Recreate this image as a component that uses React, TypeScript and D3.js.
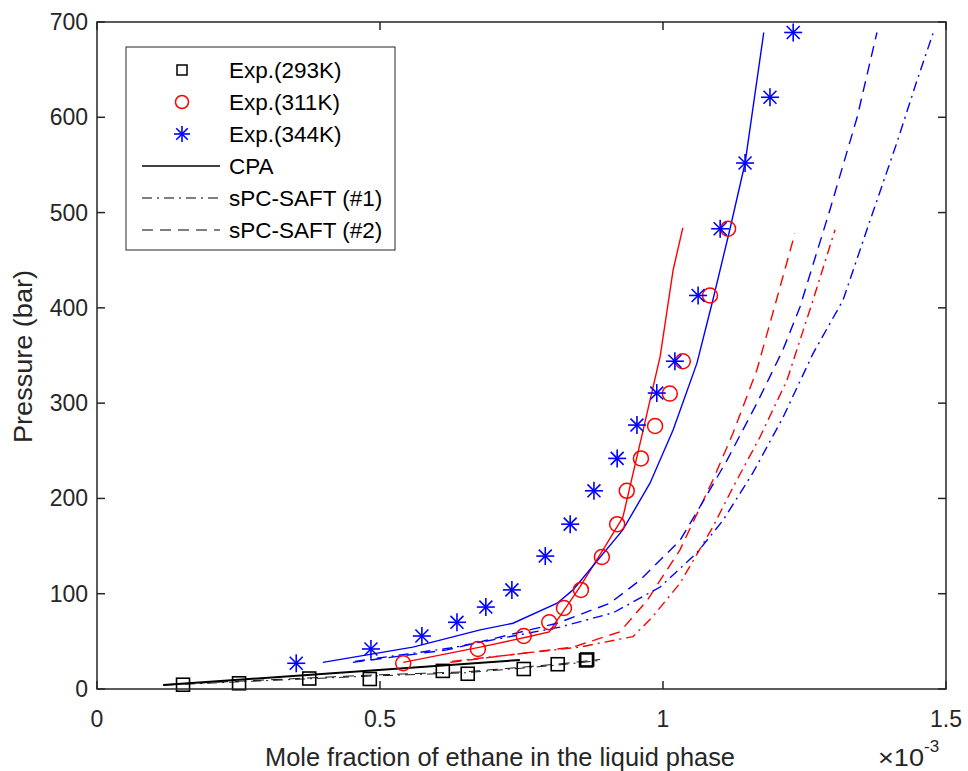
import React from "react";
import * as d3 from "d3";

type Pt = [number, number];

// Experimental data (x in 1e-3 mole fraction, pressure in bar)
const exp293: Pt[] = [
  [0.152, 4.5], [0.251, 6], [0.375, 11], [0.482, 10.5], [0.611, 19], [0.655, 16],
  [0.754, 21], [0.814, 26], [0.864, 30], [0.866, 31],
];
const exp311: Pt[] = [
  [0.541, 27], [0.673, 42], [0.754, 55.6], [0.799, 70], [0.825, 85], [0.855, 104],
  [0.892, 138.5], [0.919, 173], [0.936, 208], [0.961, 242], [0.986, 276],
  [1.012, 310], [1.035, 344], [1.083, 413], [1.115, 483],
];
const exp344: Pt[] = [
  [0.352, 27], [0.484, 42], [0.574, 55.6], [0.636, 70], [0.687, 86], [0.733, 104],
  [0.792, 139.5], [0.836, 173], [0.878, 208], [0.919, 242], [0.954, 277],
  [0.989, 310.6], [1.021, 344], [1.062, 413], [1.101, 483], [1.145, 552],
  [1.189, 621], [1.230, 689],
];

// Model curves
const cpa293: Pt[] = [[0.117, 4.2], [0.747, 30.4]];
const saft1_293: Pt[] = [[0.117, 4], [0.48, 13.5], [0.65, 17], [0.754, 22], [0.82, 25.5], [0.889, 30]];
const saft2_293: Pt[] = [[0.117, 4.5], [0.48, 14.5], [0.65, 18], [0.754, 23], [0.82, 26.5], [0.889, 31]];

const cpa311: Pt[] = [
  [0.541, 28], [0.677, 44], [0.760, 54.6], [0.799, 60], [0.853, 107], [0.894, 146],
  [0.929, 180], [0.965, 272], [0.995, 349], [1.018, 440], [1.035, 484],
];
const saft1_311: Pt[] = [
  [0.627, 29], [0.853, 44], [0.947, 55], [0.982, 76], [1.030, 111], [1.088, 170],
  [1.124, 212], [1.171, 264], [1.219, 324], [1.265, 408], [1.304, 482],
];
const saft2_311: Pt[] = [
  [0.624, 28], [0.841, 44], [0.924, 60], [0.972, 93], [1.030, 146], [1.088, 219],
  [1.124, 269], [1.166, 335], [1.198, 403], [1.233, 478],
];

const cpa344: Pt[] = [
  [0.399, 28], [0.558, 44], [0.677, 62], [0.735, 69], [0.813, 90], [0.841, 104],
  [0.929, 167], [0.977, 216], [1.018, 272], [1.060, 342], [1.088, 408],
  [1.118, 482], [1.145, 552], [1.178, 689],
];
const saft1_344: Pt[] = [
  [0.456, 29], [0.624, 43], [0.818, 65], [0.912, 80], [0.995, 107], [1.060, 143],
  [1.106, 177], [1.159, 227], [1.212, 285], [1.265, 352], [1.318, 408],
  [1.366, 492], [1.413, 573], [1.449, 639], [1.477, 688],
];
const saft2_344: Pt[] = [
  [0.452, 28], [0.618, 41], [0.813, 69], [0.906, 90], [0.959, 114], [1.030, 156],
  [1.065, 191], [1.113, 240], [1.166, 300], [1.212, 356], [1.242, 401],
  [1.295, 503], [1.343, 600], [1.378, 689],
];

const xTicks = [0, 0.5, 1, 1.5];
const yTicks = [0, 100, 200, 300, 400, 500, 600, 700];
const legendLabels = ["Exp.(293K)", "Exp.(311K)", "Exp.(344K)", "CPA", "sPC-SAFT (#1)", "sPC-SAFT (#2)"];

const W = 968, H = 771;
const M = { left: 97, right: 946, top: 22, bottom: 689 };
const FONT = "'Liberation Sans', Arial, Helvetica, sans-serif";
const AX = "#262626";
const RED = "#ff0000";
const BLUE = "#0000ff";
const DASH = "11,7";
const DASHDOT = "10,5,2,5";

function Star({ x, y, r, color }: { x: number; y: number; r: number; color: string }) {
  const d = r * 0.72;
  return (
    <g stroke={color} strokeWidth={1.6}>
      <line x1={x - r} y1={y} x2={x + r} y2={y} />
      <line x1={x} y1={y - r} x2={x} y2={y + r} />
      <line x1={x - d} y1={y - d} x2={x + d} y2={y + d} />
      <line x1={x - d} y1={y + d} x2={x + d} y2={y - d} />
    </g>
  );
}

export default function App() {
  const x = d3.scaleLinear().domain([0, 1.5]).range([M.left, M.right]);
  const y = d3.scaleLinear().domain([0, 700]).range([M.bottom, M.top]);
  const line = d3.line<Pt>().x((d) => x(d[0])).y((d) => y(d[1]));

  const curves: { data: Pt[]; color: string; dash?: string; w: number }[] = [
    { data: saft1_293, color: "#000", dash: DASHDOT, w: 0.9 },
    { data: saft2_293, color: "#000", dash: DASH, w: 0.9 },
    { data: cpa293, color: "#000", w: 2 },
    { data: saft1_311, color: RED, dash: DASHDOT, w: 1.4 },
    { data: saft2_311, color: RED, dash: DASH, w: 1.4 },
    { data: cpa311, color: RED, w: 1.4 },
    { data: saft1_344, color: BLUE, dash: DASHDOT, w: 1.4 },
    { data: saft2_344, color: BLUE, dash: DASH, w: 1.4 },
    { data: cpa344, color: BLUE, w: 1.4 },
  ];

  const lg = { x: 126, y: 47, w: 269, h: 203 };
  const rowY = [70, 102, 134, 166, 198, 230];
  const mx = 182;
  const tx = 229;

  return (
    <svg width={W} height={H} style={{ position: "absolute", left: 0, top: 0, background: "#fff" }} fontFamily={FONT}>
      <rect x={0} y={0} width={W} height={H} fill="#fff" />
      {/* curves */}
      <g fill="none">
        {curves.map((c, i) => (
          <path key={i} d={line(c.data) || ""} stroke={c.color} strokeWidth={c.w} strokeDasharray={c.dash} />
        ))}
      </g>
      {/* markers */}
      <g fill="none" stroke="#000" strokeWidth={1.6}>
        {exp293.map((d, i) => (
          <rect key={i} x={x(d[0]) - 6.5} y={y(d[1]) - 6.5} width={13} height={13} />
        ))}
      </g>
      <g fill="none" stroke={RED} strokeWidth={1.5}>
        {exp311.map((d, i) => (
          <circle key={i} cx={x(d[0])} cy={y(d[1])} r={7.5} />
        ))}
      </g>
      {exp344.map((d, i) => (
        <Star key={i} x={x(d[0])} y={y(d[1])} r={9} color={BLUE} />
      ))}
      {/* axes box */}
      <rect x={M.left} y={M.top} width={M.right - M.left} height={M.bottom - M.top} fill="none" stroke={AX} strokeWidth={1.5} />
      <g stroke={AX} strokeWidth={1.5}>
        {xTicks.map((t) => (
          <g key={t}>
            <line x1={x(t)} x2={x(t)} y1={M.bottom} y2={M.bottom - 8} />
            <line x1={x(t)} x2={x(t)} y1={M.top} y2={M.top + 8} />
          </g>
        ))}
        {yTicks.map((t) => (
          <g key={t}>
            <line x1={M.left} x2={M.left + 8} y1={y(t)} y2={y(t)} />
            <line x1={M.right} x2={M.right - 8} y1={y(t)} y2={y(t)} />
          </g>
        ))}
      </g>
      <g fill={AX} fontSize={23}>
        {xTicks.map((t) => (
          <text key={t} x={x(t)} y={727} textAnchor="middle">{d3.format("")(t)}</text>
        ))}
        {yTicks.map((t) => (
          <text key={t} x={88} y={y(t) + 8} textAnchor="end">{t}</text>
        ))}
      </g>
      <text x={265} y={766} fontSize={26} fill={AX} textLength={470} lengthAdjust="spacingAndGlyphs">
        Mole fraction of ethane in the liquid phase
      </text>
      <g fill={AX}>
        <text x={878} y={766} fontSize={24} textLength={46} lengthAdjust="spacingAndGlyphs">×10</text>
        <text x={924} y={752} fontSize={17}>-3</text>
      </g>
      <text transform={`translate(32,443) rotate(-90)`} fontSize={25} fill={AX} textLength={173} lengthAdjust="spacingAndGlyphs">
        Pressure (bar)
      </text>
      {/* legend */}
      <rect x={lg.x} y={lg.y} width={lg.w} height={lg.h} fill="#fff" stroke={AX} strokeWidth={1} />
      <rect x={mx - 5} y={rowY[0] - 5} width={10} height={10} fill="none" stroke="#000" strokeWidth={1.5} />
      <circle cx={mx} cy={rowY[1]} r={6.5} fill="none" stroke={RED} strokeWidth={1.5} />
      <Star x={mx} y={rowY[2]} r={8} color={BLUE} />
      <line x1={142} x2={220} y1={rowY[3]} y2={rowY[3]} stroke="#000" strokeWidth={1.6} />
      <line x1={142} x2={220} y1={rowY[4]} y2={rowY[4]} stroke="#000" strokeWidth={1} strokeDasharray={DASHDOT} />
      <line x1={142} x2={220} y1={rowY[5]} y2={rowY[5]} stroke="#000" strokeWidth={1} strokeDasharray={DASH} />
      <g fontSize={22.5} fill="#000">
        {legendLabels.map((l, i) => (
          <text key={l} x={tx} y={rowY[i] + 8}>{l}</text>
        ))}
      </g>
    </svg>
  );
}
